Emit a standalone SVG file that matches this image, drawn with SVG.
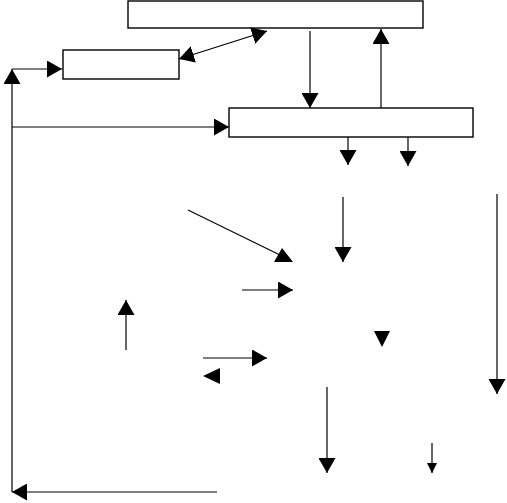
<svg xmlns="http://www.w3.org/2000/svg" width="507" height="503" viewBox="0 0 507 503">
<defs>
<style>
.box{fill:#fff;stroke:#000;stroke-width:1.4}
.ln{fill:none;stroke:#000;stroke-width:1.2}
.ah{fill:#000}
</style>
<marker id="a" markerUnits="userSpaceOnUse" markerWidth="16" markerHeight="17" refX="15" refY="8.5" orient="auto-start-reverse" viewBox="0 0 16 17"><path d="M0,0 L15,8.5 L0,17 z" fill="#000"/></marker>
<marker id="s" markerUnits="userSpaceOnUse" markerWidth="11" markerHeight="11" refX="10" refY="5" orient="auto" viewBox="0 0 11 11"><path d="M0,0 L10,5 L0,10 z" fill="#000"/></marker>
</defs>
<rect width="507" height="503" fill="#fff"/>
<g id="box-top"><rect class="box" x="128" y="1" width="295" height="27"/></g>
<g id="box-left"><rect class="box" x="63" y="50" width="116" height="29"/></g>
<g id="box-mid"><rect class="box" x="229" y="108" width="244" height="29"/></g>
<g id="connectors">
<line class="ln" x1="179" y1="59" x2="267" y2="31" marker-start="url(#a)" marker-end="url(#a)"/>
<polyline class="ln" points="217,492 12,492" marker-end="url(#a)"/>
<line class="ln" x1="12" y1="492" x2="12" y2="69" marker-end="url(#a)"/>
<line class="ln" x1="12" y1="69" x2="62" y2="69" marker-end="url(#a)"/>
<line class="ln" x1="12" y1="127" x2="229" y2="127" marker-end="url(#a)"/>
<line class="ln" x1="310" y1="31" x2="310" y2="108" marker-end="url(#a)"/>
<line class="ln" x1="381" y1="108" x2="381" y2="29" marker-end="url(#a)"/>
<line class="ln" x1="348" y1="137" x2="348" y2="165" marker-end="url(#a)"/>
<line class="ln" x1="408" y1="137" x2="408" y2="166" marker-end="url(#a)"/>
<line class="ln" x1="188" y1="210" x2="282" y2="256"/>
<polygon class="ah" points="282,248 274,262 293,262"/>
<line class="ln" x1="343" y1="197" x2="343" y2="262" marker-end="url(#a)"/>
<line class="ln" x1="242" y1="290" x2="293" y2="290" marker-end="url(#a)"/>
<line class="ln" x1="497" y1="194" x2="497" y2="394" marker-end="url(#a)"/>
<polygon class="ah" points="374,331 390,331 382,347"/>
<line class="ln" x1="126" y1="350" x2="126" y2="300" marker-end="url(#a)"/>
<line class="ln" x1="203" y1="358" x2="267" y2="358" marker-end="url(#a)"/>
<polygon class="ah" points="220,368 220,384 203,376"/>
<line class="ln" x1="327" y1="387" x2="327" y2="473" marker-end="url(#a)"/>
<line class="ln" x1="432" y1="443" x2="432" y2="473" marker-end="url(#s)"/>
</g>
</svg>
